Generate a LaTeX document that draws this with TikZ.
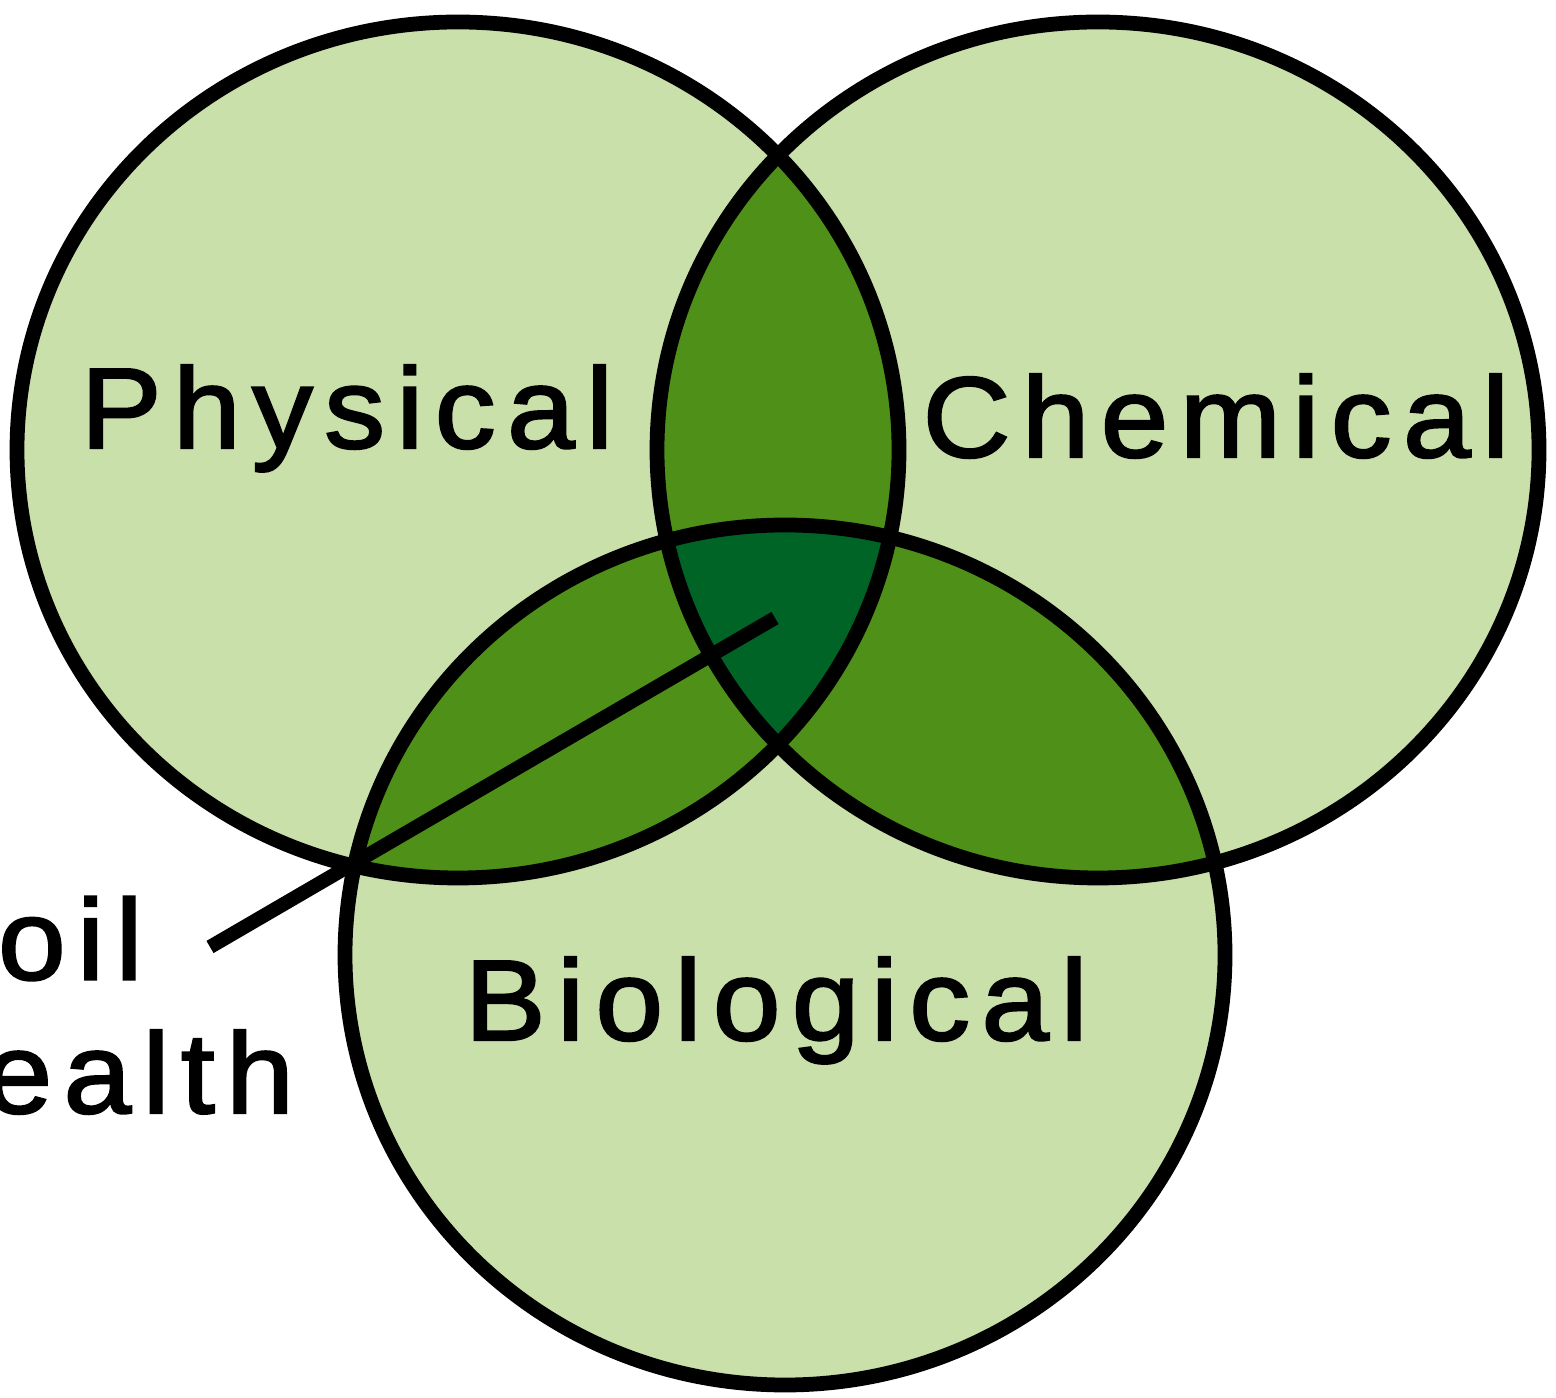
\documentclass[tikz,border=0pt]{standalone}
\usepackage{fontspec}
\setmainfont{Liberation Sans}
\newfontfamily\vennfont[LetterSpace=10, FakeStretch=1.06, FakeBold=2]{Liberation Sans}

\definecolor{soillight}{RGB}{201,224,171}
\definecolor{soilmid}{RGB}{79,145,24}
\definecolor{soildark}{RGB}{0,100,38}

% the three rings of the diagram
\newcommand{\physring}{(4.58,9.47) ellipse [x radius=4.41, y radius=4.28]}
\newcommand{\chemring}{(10.98,9.47) ellipse [x radius=4.41, y radius=4.28]}
\newcommand{\bioring}{(7.85,4.42) ellipse [x radius=4.40, y radius=4.30]}

\begin{document}
\begin{tikzpicture}[
    ring/.style={draw=black, line width=4.2pt},
    lbl/.style={font=\vennfont\fontsize{32.6}{38}\selectfont, inner sep=0pt}]

    \useasboundingbox (0,0) rectangle (15.56,13.97);

    % --- Plain fills ---
    \fill[soillight] \physring;
    \fill[soillight] \chemring;
    \fill[soillight] \bioring;

    % --- Pairwise overlaps ---
    \begin{scope}
      \clip \physring;
      \fill[soilmid] \chemring;
      \fill[soilmid] \bioring;
    \end{scope}
    \begin{scope}
      \clip \chemring;
      \fill[soilmid] \bioring;
    \end{scope}

    % Core where all three meet
    \begin{scope}
      \clip \physring;
      \clip \chemring;
      \fill[soildark] \bioring;
    \end{scope}

    % --- Outlines ---
    \draw[ring] \physring;
    \draw[ring] \chemring;
    \draw[ring] \bioring;

    % --- Labels ---
    \node[lbl, anchor=base west] (phys) at (0.80,9.49) {Physical};
    \node[lbl, anchor=base west] (chem) at (9.22,9.40) {Chemical};
    \node[lbl, anchor=base west] (bio) at (4.64,3.57) {Biological};
    % base of a two-line node sits on its last line
    \node[lbl, anchor=base west, align=left] (soil) at (-0.95,2.84) {Soil\\health};

    % Pointer from the label into the core
    \coordinate (tip) at (2.10,4.50);
    \coordinate (core) at (7.75,7.79);
    \draw[line width=4pt] (tip) -- (core);

\end{tikzpicture}
\end{document}
